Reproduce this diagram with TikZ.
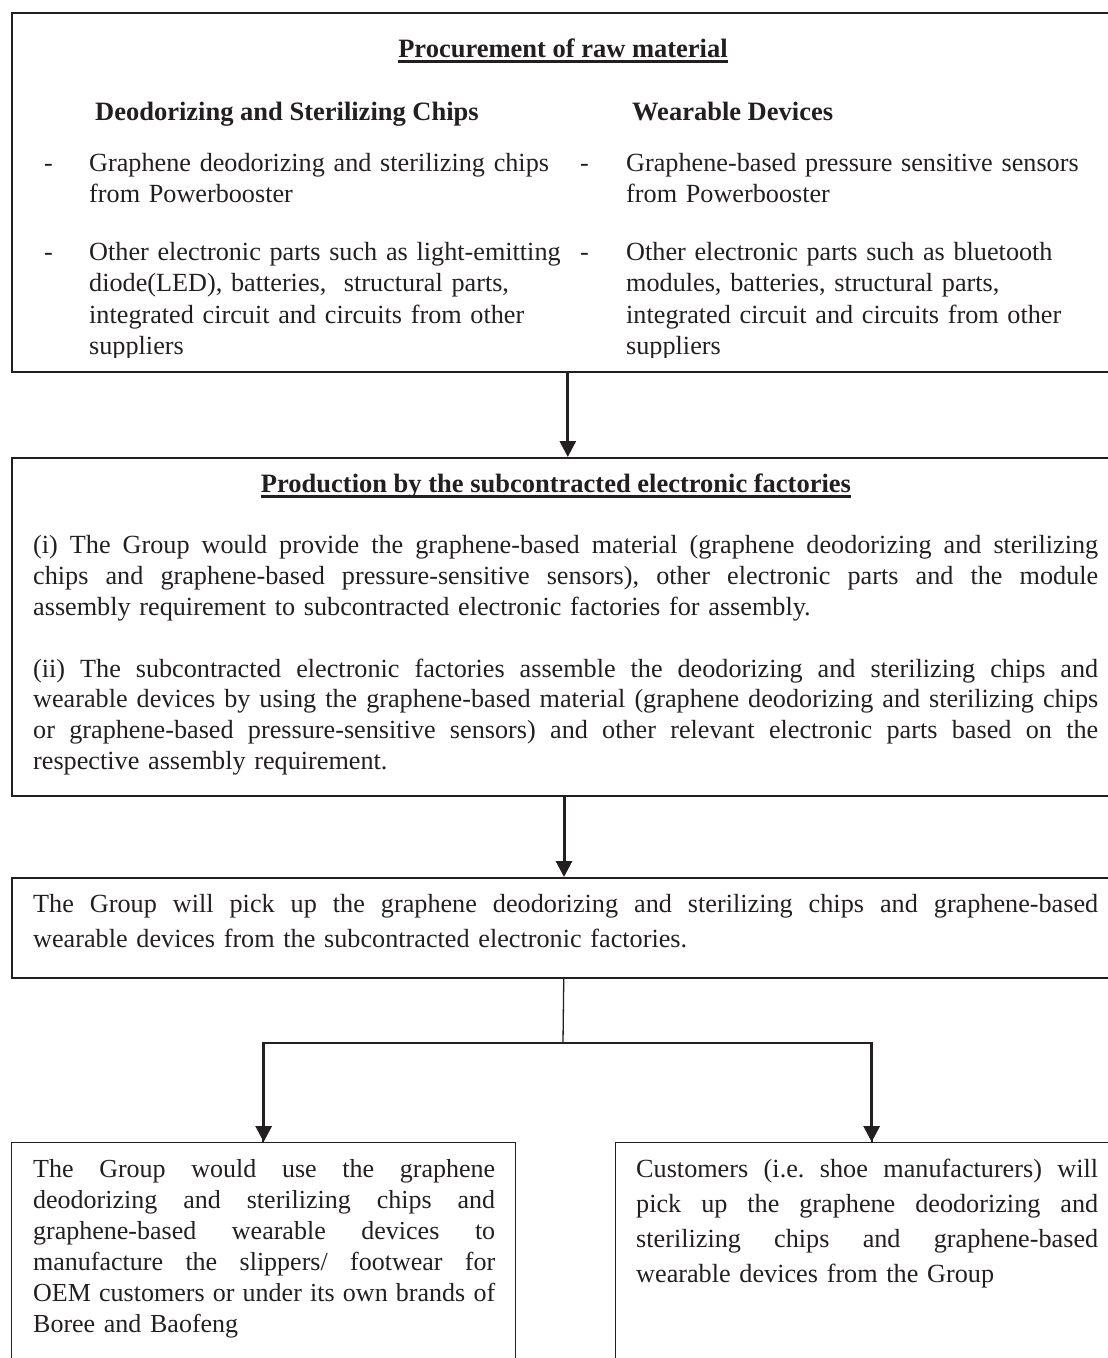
\documentclass[tikz,border=0pt]{standalone}
\usepackage{fontspec}
\setmainfont{Liberation Serif}
\usetikzlibrary{arrows.meta}
\definecolor{ink}{HTML}{231F20}
\frenchspacing
\newcommand{\jl}[2]{\makebox[#1][s]{\spaceskip=\fontdimen2\font plus 1fil minus \fontdimen4\font\relax #2}}
\begin{document}
\begin{tikzpicture}[x=1pt,y=-1pt,
  frame/.style={draw=ink, inner sep=0pt, anchor=north west},
  arr/.style={draw=ink, line width=3pt, -{Triangle[length=16pt,width=16pt]}},
  stem/.style={draw=ink, line width=1.3pt},
  branch/.style={draw=ink, line width=2pt},
  txt/.style={inner sep=0pt, anchor=base west, text=ink, font=\fontsize{26.2}{31.5}\selectfont, align=left},
  head/.style={inner sep=0pt, anchor=base, text=ink, font=\fontsize{26.5}{31.5}\selectfont\bfseries},
  uline/.style={draw=ink, line width=2.6pt}
]
\clip (0,0) rectangle (1108,1358);
% boxes
\node[frame, line width=1.6pt, minimum width=1112pt, minimum height=359pt] (proc) at (11,12) {};
\node[frame, line width=2pt, minimum width=1104pt, minimum height=338pt] (prod) at (11,457) {};
\node[frame, line width=1.5pt, minimum width=1104pt, minimum height=100pt] (pick) at (11,877) {};
\node[frame, line width=1.3pt, minimum width=504pt, minimum height=240pt] (own) at (11,1142) {};
\node[frame, line width=1.3pt, minimum width=512pt, minimum height=240pt] (cust) at (615,1142) {};

% box 1
\node[head] (t1) at (563,57) {Procurement of raw material};
\draw[uline] ([yshift=-4.5pt]t1.base west) -- ([yshift=-4.5pt]t1.base east);
\node[head, anchor=base west] (h1) at (95,120) {Deodorizing and Sterilizing Chips};
\node[head, anchor=base west] (h2) at (632,120) {Wearable Devices};
\begin{scope}
\clip (0,0) rectangle (1108,357);
\node[txt] (d1) at (44,171) {-};
\node[txt, text width=500pt] (d1t) at (89,171) {Graphene deodorizing and sterilizing chips\\from Powerbooster};
\node[txt] (d2) at (44,260) {-};
\node[txt, text width=500pt] (d2t) at (89,260) {Other electronic parts such as light-emitting\\diode(LED), batteries,\ \ structural parts,\\integrated circuit and circuits from other\\suppliers};
\node[txt] (w1) at (580,171) {-};
\node[txt, text width=480pt] (w1t) at (626,171) {Graphene-based pressure sensitive sensors\\from Powerbooster};
\node[txt] (w2) at (580,260) {-};
\node[txt, text width=480pt] (w2t) at (626,260) {Other electronic parts such as bluetooth\\modules, batteries, structural parts,\\integrated circuit and circuits from other\\suppliers};
\end{scope}

% box 2
\node[head] (t2) at (556,492) {Production by the subcontracted electronic factories};
\draw[uline] ([yshift=-4.5pt]t2.base west) -- ([yshift=-4.5pt]t2.base east);
\node[txt, text width=1065pt, font=\fontsize{26.2}{31.2}\selectfont] (p1) at (33,553) {%
\jl{1065pt}{(i) The Group would provide the graphene-based material (graphene deodorizing and sterilizing}\\
\jl{1065pt}{chips and graphene-based pressure-sensitive sensors), other electronic parts and the module}\\
assembly requirement to subcontracted electronic factories for assembly.};
\node[txt, text width=1065pt, font=\fontsize{26.2}{30.8}\selectfont] (p2) at (33,677) {%
\jl{1065pt}{(ii) The subcontracted electronic factories assemble the deodorizing and sterilizing chips and}\\
\jl{1065pt}{wearable devices by using the graphene-based material (graphene deodorizing and sterilizing chips}\\
\jl{1065pt}{or graphene-based pressure-sensitive sensors) and other relevant electronic parts based on the}\\
respective assembly requirement.};

% box 3
\node[txt, text width=1065pt, font=\fontsize{26.2}{35}\selectfont] (p3) at (33,912) {%
\jl{1065pt}{The Group will pick up the graphene deodorizing and sterilizing chips and graphene-based}\\
wearable devices from the subcontracted electronic factories.};

% bottom boxes
\node[txt, text width=462pt, font=\fontsize{26}{31}\selectfont] (p4) at (33,1177) {%
\jl{462pt}{The Group would use the graphene}\\
\jl{462pt}{deodorizing and sterilizing chips and}\\
\jl{462pt}{graphene-based wearable devices to}\\
\jl{462pt}{manufacture the slippers/ footwear for}\\
\jl{462pt}{OEM customers or under its own brands of}\\
Boree and Baofeng};
\node[txt, text width=462pt, font=\fontsize{26.2}{35}\selectfont] (p5) at (636,1177) {%
\jl{462pt}{Customers (i.e. shoe manufacturers) will}\\
\jl{462pt}{pick up the graphene deodorizing and}\\
\jl{462pt}{sterilizing chips and graphene-based}\\
wearable devices from the Group};

% connectors
\draw[arr] (proc.south) -- (proc.south |- prod.north);
\draw[arr] (prod.south) -- (prod.south |- pick.north);
\coordinate (split) at (563,1043);
\draw[stem] (pick.south) -- (split);
\draw[branch] (split) -| ([xshift=-1pt]own.north);
\draw[branch] (split) -| (cust.north);
\draw[arr] (own.north |- split) -- (own.north);
\draw[arr] (cust.north |- split) -- (cust.north);
\end{tikzpicture}
\end{document}
